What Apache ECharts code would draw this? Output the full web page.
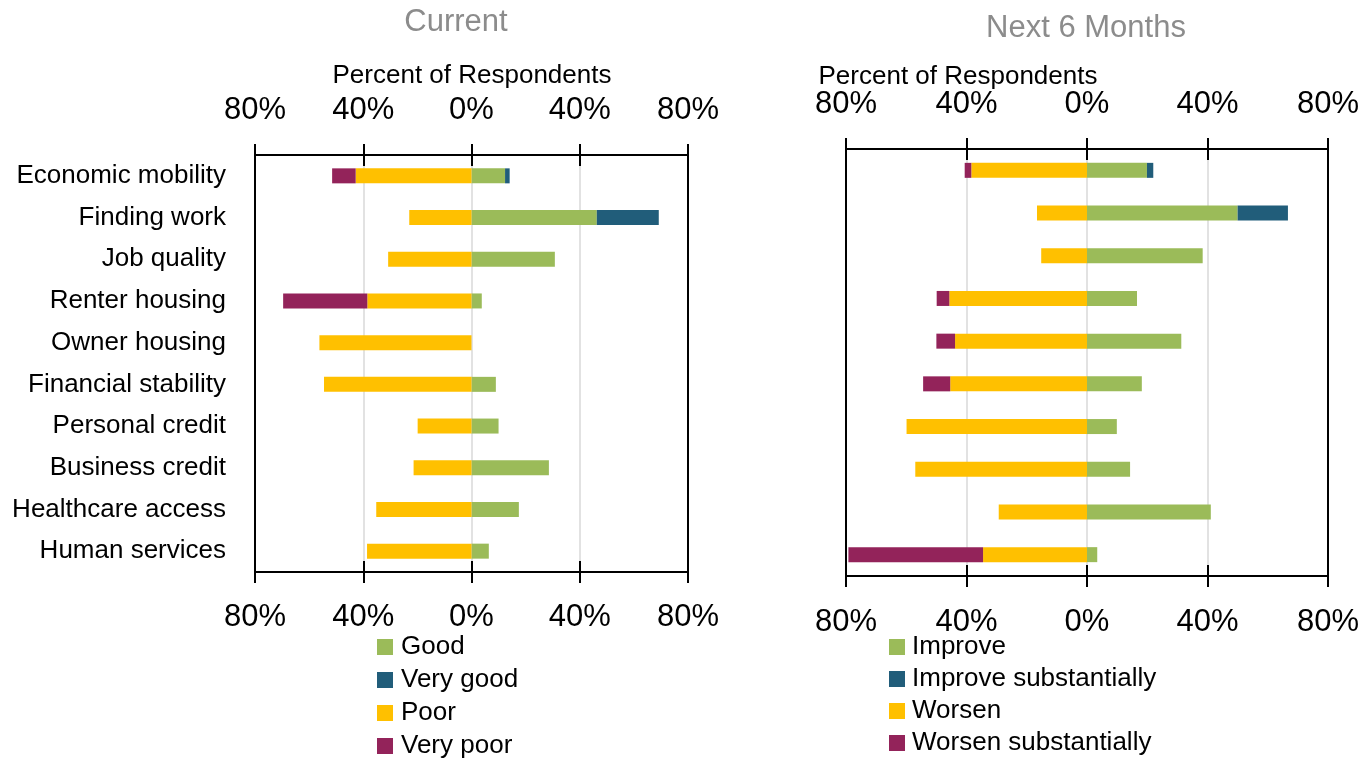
<!DOCTYPE html>
<html>
<head>
<meta charset="utf-8">
<script src="https://cdn.jsdelivr.net/npm/echarts@6/dist/echarts.min.js"></script>
<style>
  html, body { margin: 0; padding: 0; background: #fff; }
  #chart { width: 1361px; height: 763px; }
</style>
</head>
<body>
<div id="chart"></div>
<script>
// categories, top to bottom
const categories = ['Economic mobility', 'Finding work', 'Job quality', 'Renter housing', 'Owner housing',
    'Financial stability', 'Personal credit', 'Business credit', 'Healthcare access', 'Human services'];

// Current (percent of respondents, negatives drawn to the left)
const curGood = [12.4, 46.3, 30.8, 3.8, 0, 9.0, 10.0, 28.6, 17.5, 6.4];
const curVeryGood = [1.7, 22.9, 0, 0, 0, 0, 0, 0, 0, 0];
const curPoor = [-42.8, -23.0, -30.8, -38.5, -56.2, -54.5, -19.9, -21.4, -35.2, -38.6];
const curVeryPoor = [-8.7, 0, 0, -31.1, 0, 0, 0, 0, 0, 0];

// Next 6 months
const nextImprove = [19.9, 50.0, 38.4, 16.6, 31.3, 18.2, 9.9, 14.3, 41.1, 3.4];
const nextImproveSub = [2.1, 16.7, 0, 0, 0, 0, 0, 0, 0, 0];
const nextWorsen = [-38.4, -16.6, -15.2, -45.7, -43.8, -45.4, -59.9, -57.0, -29.3, -34.5];
const nextWorsenSub = [-2.2, 0, 0, -4.2, -6.2, -9.0, 0, 0, 0, -44.7];

const FONT = "'Liberation Sans Narrow', 'Arial Narrow', 'Liberation Sans', sans-serif";
const GREEN = '#9bbb59', TEAL = '#215d7a', YELLOW = '#ffc000', MAROON = '#93235a';

const chart = echarts.init(document.getElementById('chart'));

// one grid's worth of x axes: outward ticks with labels, plus inward ticks only
function xAxes(gridIndex, position, margin) {
    const base = {
        type: 'value', gridIndex: gridIndex, position: position,
        min: -80, max: 80, interval: 40
    };
    return [
        Object.assign({}, base, {
            axisLine: { show: true, onZero: false, lineStyle: { color: '#000', width: 2 } },
            axisTick: { show: true, length: 11, lineStyle: { color: '#000', width: 2 } },
            axisLabel: {
                margin: margin, fontSize: 31, color: '#000', fontFamily: FONT,
                formatter: v => Math.abs(v) + '%'
            },
            splitLine: { show: position === 'top', lineStyle: { color: '#d9d9d9', width: 1.5 } }
        }),
        Object.assign({}, base, {
            axisLine: { show: false },
            axisTick: { show: true, inside: true, length: 11, lineStyle: { color: '#000', width: 2 } },
            axisLabel: { show: false },
            splitLine: { show: false }
        })
    ];
}

function yAxes(gridIndex, showLabels) {
    return [
        {
            type: 'category', gridIndex: gridIndex, data: categories, inverse: true, position: 'left',
            axisLine: { show: true, onZero: false, lineStyle: { color: '#000', width: 2 } },
            axisTick: { show: false },
            axisLabel: { show: showLabels, margin: 29, fontSize: 26, color: '#000', fontFamily: FONT }
        },
        {
            type: 'category', gridIndex: gridIndex, data: categories, inverse: true, position: 'right',
            axisLine: { show: true, onZero: false, lineStyle: { color: '#000', width: 2 } },
            axisTick: { show: false },
            axisLabel: { show: false }
        }
    ];
}

function bar(name, data, color, xIndex, yIndex, stack) {
    return {
        name: name, type: 'bar', stack: stack, data: data,
        xAxisIndex: xIndex, yAxisIndex: yIndex,
        barWidth: 15,
        itemStyle: { color: color },
        emphasis: { disabled: true }
    };
}

const titleText = (size, color) => ({ fontSize: size, fontWeight: 'normal', color: color, fontFamily: FONT });

const option = {
    animation: false,
    title: [
        { text: 'Current', left: 456, top: 7, textAlign: 'center', padding: 0, textStyle: titleText(31, '#8c8c8c') },
        { text: 'Next 6 Months', left: 1086, top: 13, textAlign: 'center', padding: 0, textStyle: titleText(31, '#8c8c8c') },
        { text: 'Percent of Respondents', left: 472, top: 63, textAlign: 'center', padding: 0, textStyle: titleText(26, '#000') },
        { text: 'Percent of Respondents', left: 958, top: 64, textAlign: 'center', padding: 0, textStyle: titleText(26, '#000') }
    ],
    legend: [
        {
            data: ['Good', 'Very good', 'Poor', 'Very poor'],
            orient: 'vertical', left: 377, top: 634, padding: 0,
            itemWidth: 16, itemHeight: 16, itemGap: 7,
            icon: 'rect', selectedMode: false,
            textStyle: { fontSize: 26, lineHeight: 26, color: '#000', fontFamily: FONT, padding: [0, 0, 0, 3] }
        },
        {
            data: ['Improve', 'Improve substantially', 'Worsen', 'Worsen substantially'],
            orient: 'vertical', left: 889, top: 634, padding: 0,
            itemWidth: 16, itemHeight: 16, itemGap: 6,
            icon: 'rect', selectedMode: false,
            textStyle: { fontSize: 26, lineHeight: 26, color: '#000', fontFamily: FONT, padding: [0, 0, 0, 2] }
        }
    ],
    grid: [
        { left: 255, top: 155, width: 433, height: 417, containLabel: false, outerBoundsMode: 'none' },
        { left: 846, top: 149, width: 482, height: 427, containLabel: false, outerBoundsMode: 'none' }
    ],
    xAxis: [].concat(
        xAxes(0, 'top', 29), xAxes(0, 'bottom', 30),
        xAxes(1, 'top', 29), xAxes(1, 'bottom', 31)
    ),
    yAxis: [].concat(yAxes(0, true), yAxes(1, false)),
    series: [
        bar('Good', curGood, GREEN, 0, 0, 'cur'),
        bar('Very good', curVeryGood, TEAL, 0, 0, 'cur'),
        bar('Poor', curPoor, YELLOW, 0, 0, 'cur'),
        bar('Very poor', curVeryPoor, MAROON, 0, 0, 'cur'),
        bar('Improve', nextImprove, GREEN, 4, 2, 'next'),
        bar('Improve substantially', nextImproveSub, TEAL, 4, 2, 'next'),
        bar('Worsen', nextWorsen, YELLOW, 4, 2, 'next'),
        bar('Worsen substantially', nextWorsenSub, MAROON, 4, 2, 'next')
    ]
};

chart.setOption(option);
window.addEventListener('resize', () => chart.resize());
</script>
</body>
</html>
